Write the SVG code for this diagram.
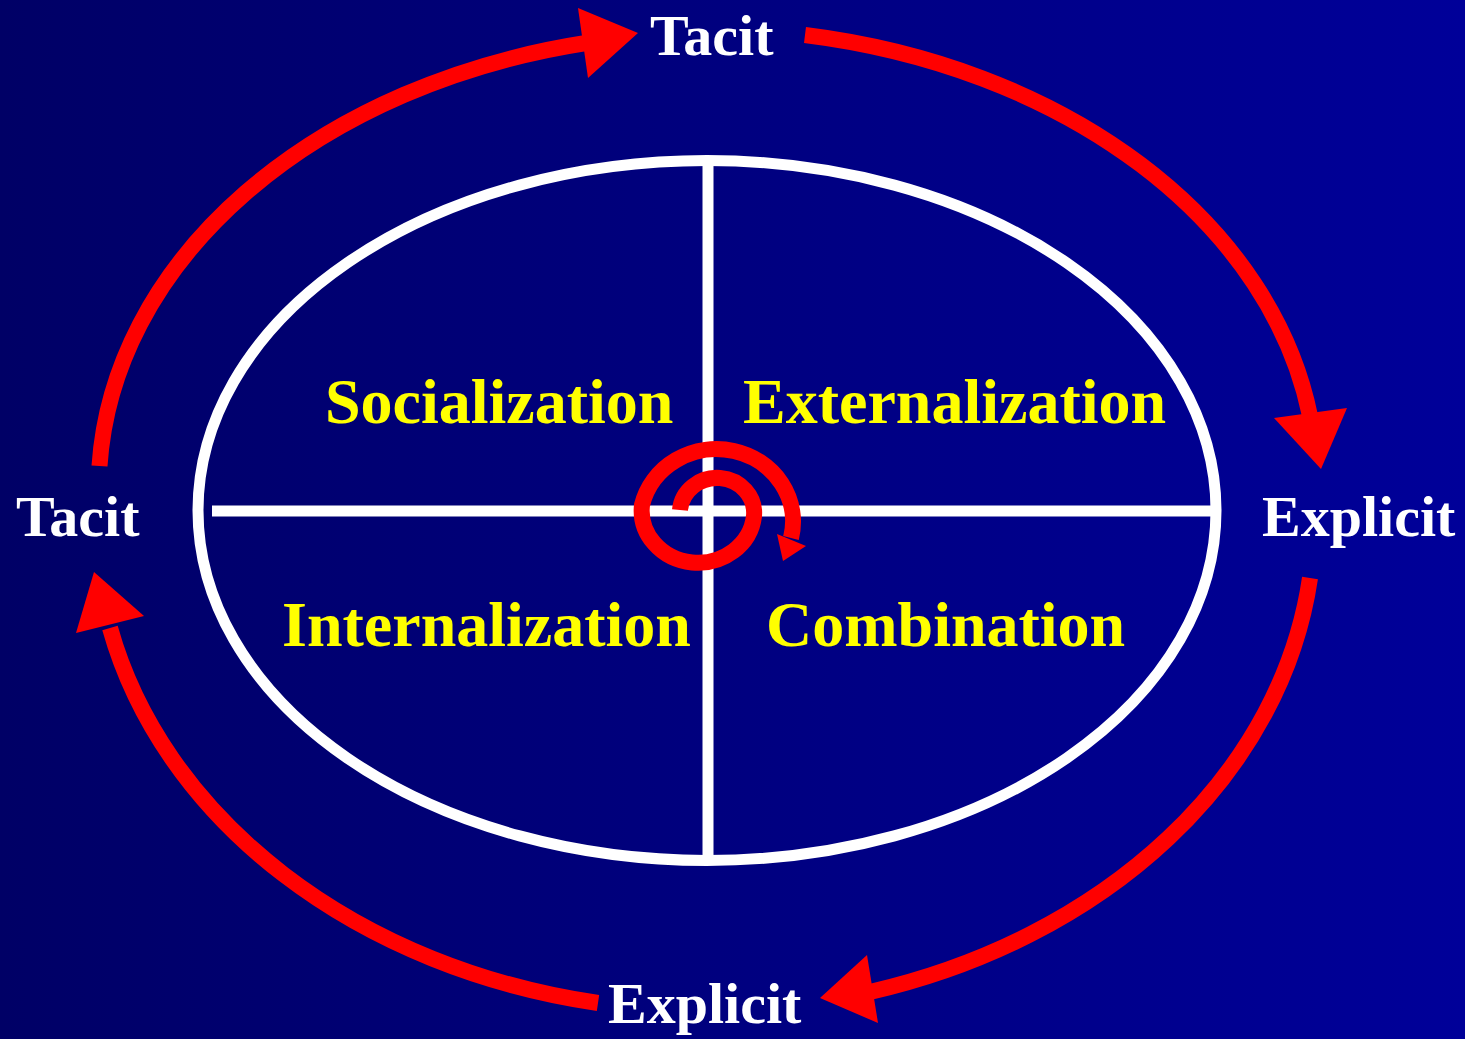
<svg xmlns="http://www.w3.org/2000/svg" width="1465" height="1039" viewBox="0 0 1465 1039">
<defs>
<linearGradient id="bg" x1="0" y1="0" x2="1" y2="0">
<stop offset="0" stop-color="#000066"/>
<stop offset="1" stop-color="#000099"/>
</linearGradient>
<style>
.lbl{font-family:"Liberation Serif","Times New Roman",serif;font-weight:bold;font-size:58px;fill:#ffffff}
.q{font-family:"Liberation Serif","Times New Roman",serif;font-weight:bold;font-size:64px;fill:#ffff00}
.arc{fill:none;stroke:#ff0000;stroke-width:16}
.head{fill:#ff0000}
.w{fill:none;stroke:#ffffff;stroke-width:11}
</style>
</defs>
<rect width="1465" height="1039" fill="url(#bg)"/>
<g id="frame">
<ellipse cx="707" cy="510.5" rx="509" ry="350" class="w"/>
<line x1="212" y1="511" x2="1216" y2="511" class="w"/>
<line x1="708" y1="161" x2="708" y2="860" class="w"/>
</g>
<g id="connectors">
<path class="arc" d="M 99.5 466 A 613 455 0 0 1 586 43"/>
<polygon class="head" points="578,8 638,33 588,78"/>
<path class="arc" d="M 805 35 A 613 455 0 0 1 1310 416"/>
<polygon class="head" points="1274,418 1347,408 1321,469"/>
<path class="arc" d="M 1310 578 A 613 490 0 0 1 870 992"/>
<polygon class="head" points="867,955 820,998 878,1023"/>
<path class="arc" d="M 598 1003 A 613 490 0 0 1 110 628"/>
<polygon class="head" points="144,616 94,572 76,633"/>
<path class="arc" stroke-width="15" d="M 680 510 A 37 35 0 0 1 754 516 A 56 52 0 0 1 642 505 A 75 71 0 0 1 791 538"/>
<polygon class="head" points="777,534 806,546 783,561"/>
</g>
<g id="tacit-top"><text class="lbl" x="650" y="55">Tacit</text></g>
<g id="tacit-left"><text class="lbl" x="16" y="536">Tacit</text></g>
<g id="explicit-right"><text class="lbl" x="1262" y="536">Explicit</text></g>
<g id="explicit-bottom"><text class="lbl" x="608" y="1023">Explicit</text></g>
<g id="socialization"><text class="q" x="325" y="423">Socialization</text></g>
<g id="externalization"><text class="q" x="743" y="423">Externalization</text></g>
<g id="internalization"><text class="q" x="282" y="646">Internalization</text></g>
<g id="combination"><text class="q" x="766" y="646">Combination</text></g>
</svg>
